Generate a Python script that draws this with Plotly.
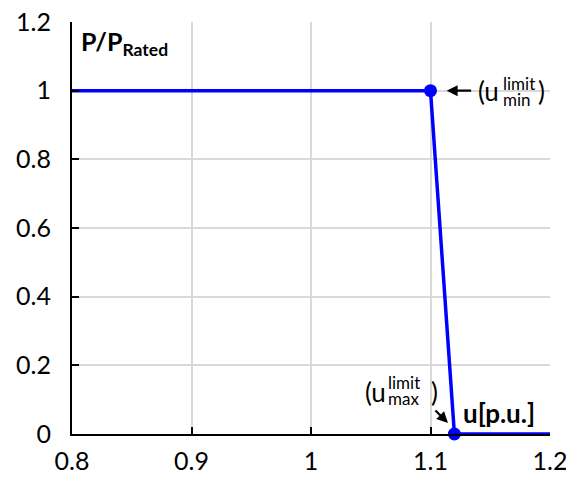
import plotly.graph_objects as go

u_values = [0.8, 1.1, 1.12, 1.2]
p_values = [1, 1, 0, 0]
marker_u = [1.1, 1.12]
marker_p = [1, 0]
x_ticks = [0.8, 0.9, 1.0, 1.1, 1.2]
x_tick_labels = ["0.8", "0.9", "1", "1.1", "1.2"]
y_ticks = [0, 0.2, 0.4, 0.6, 0.8, 1.0, 1.2]
y_tick_labels = ["0", "0.2", "0.4", "0.6", "0.8", "1", "1.2"]

FONT = "Lato, Open Sans, sans-serif"
BLUE = "#0000FF"

fig = go.Figure()
fig.add_trace(go.Scatter(x=u_values, y=p_values, mode="lines",
                         line=dict(color=BLUE, width=3.5), showlegend=False,
                         cliponaxis=False))
fig.add_trace(go.Scatter(x=marker_u, y=marker_p, mode="markers",
                         marker=dict(color=BLUE, size=13), showlegend=False,
                         cliponaxis=False))

def txt(x, y, s, size, xanchor="left", bold=False):
    fig.add_annotation(x=x, y=y, xref="x", yref="y", text=("<b>%s</b>" % s) if bold else s,
                       showarrow=False, xanchor=xanchor, yanchor="middle",
                       borderpad=0,
                       font=dict(family=FONT, size=size, color="black"))

# axis labels inside plot
txt(0.8067, 1.139, "P/P<sub>Rated</sub>", 25, bold=True)
txt(1.1262, 0.061, "u[p.u.]", 26, bold=True)

# upper annotation
fig.add_annotation(x=1.1135, y=1, xref="x", yref="y", text="", showarrow=True,
                   ax=26, ay=0, arrowhead=2, arrowsize=1, arrowwidth=2.2, arrowcolor="black")
txt(1.1385, 1.0, "(u", 26)
txt(1.1600, 1.022, "limit", 17)
txt(1.1600, 0.975, "min", 17)
txt(1.1895, 1.0, ")", 26)

# lower annotation
fig.add_annotation(x=1.1146, y=0.032, xref="x", yref="y", text="", showarrow=True,
                   ax=-14, ay=-14, arrowhead=2, arrowsize=1, arrowwidth=2.2, arrowcolor="black")
txt(1.0440, 0.122, "(u", 26)
txt(1.0640, 0.151, "limit", 17)
txt(1.0640, 0.104, "max", 17)
txt(1.0995, 0.122, ")", 26)

# page body adds an 8px offset; margins compensate so plot area sits at the reference position
fig.update_layout(
    width=566, height=466,
    margin=dict(l=64, r=24, t=14, b=40, autoexpand=False),
    paper_bgcolor="white", plot_bgcolor="white",
    font=dict(family=FONT, size=25, color="black"),
    xaxis=dict(range=[0.8, 1.2], tickvals=x_ticks, ticktext=x_tick_labels,
               showgrid=True, gridcolor="#d9d9d9", gridwidth=1.5,
               showline=True, linecolor="black", linewidth=2,
               ticks="inside", ticklen=7, tickwidth=2, tickcolor="black",
               zeroline=False, fixedrange=True, automargin=False,
               ticklabeloverflow="allow", ticklabelstandoff=4),
    yaxis=dict(range=[0, 1.2], tickvals=y_ticks, ticktext=y_tick_labels,
               showgrid=True, gridcolor="#d9d9d9", gridwidth=1.5,
               showline=True, linecolor="black", linewidth=2,
               ticks="inside", ticklen=7, tickwidth=2, tickcolor="black",
               zeroline=False, fixedrange=True, automargin=False,
               ticklabeloverflow="allow", ticklabelstandoff=14),
)

fig.write_html("out.html")
